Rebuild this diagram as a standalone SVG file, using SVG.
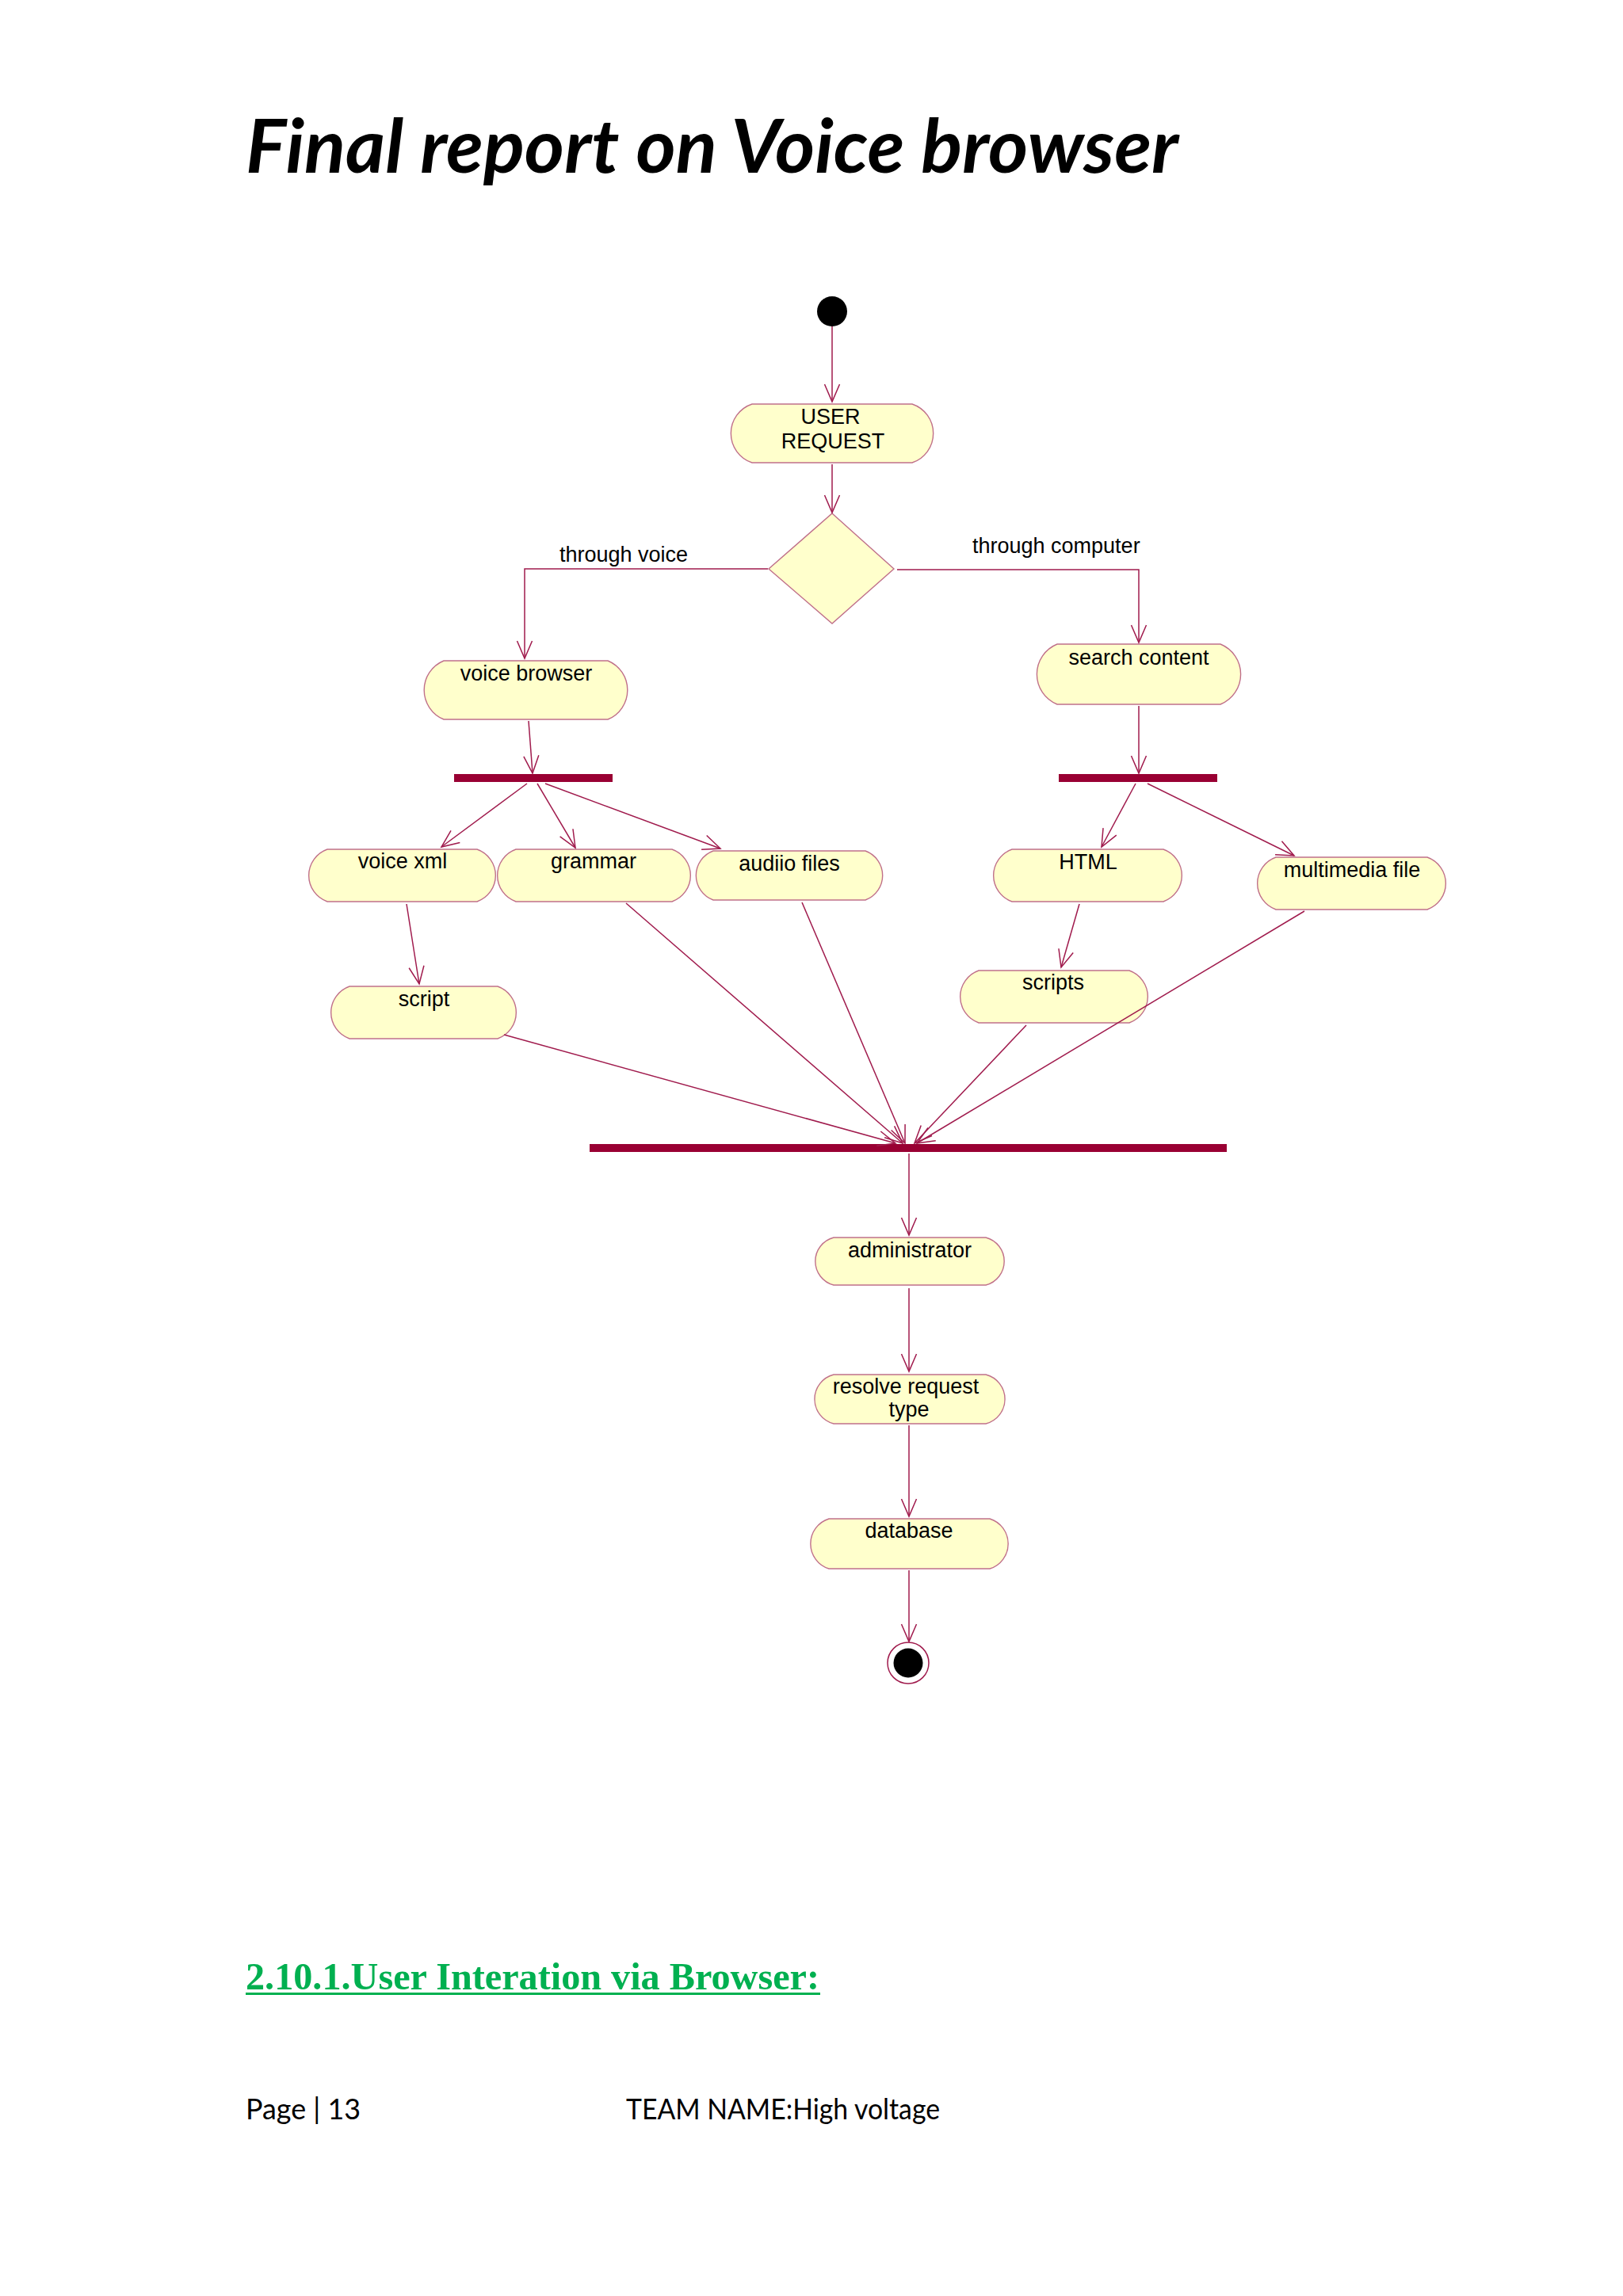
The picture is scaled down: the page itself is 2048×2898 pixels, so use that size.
<svg xmlns="http://www.w3.org/2000/svg" width="2048" height="2898" viewBox="0 0 2048 2898">
<defs>
<style>
.node path{fill:#FFFFCC;stroke:#C0708A;stroke-width:1.4}
.lbl{font-family:"Liberation Sans",Arial,sans-serif;font-size:27px;fill:#000;text-anchor:middle}
.elbl{font-family:"Liberation Sans",Arial,sans-serif;font-size:27px;fill:#000}
.conn path{fill:none;stroke:#A01B4D;stroke-width:1.5}
.arr{marker-end:url(#ah)}
.bar{fill:#990033}
</style>
<marker id="ah" markerUnits="userSpaceOnUse" orient="auto" markerWidth="30" markerHeight="30" refX="0" refY="0" viewBox="-25 -15 30 30" overflow="visible">
<path d="M-22,-9.5 L0,0 L-22,9.5" fill="none" stroke="#A01B4D" stroke-width="1.5"/>
</marker>
</defs>
<rect width="2048" height="2898" fill="#FFFFFF"/>

<text x="310" y="218" font-family="Lato,'Open Sans',sans-serif" font-weight="bold" font-style="italic" font-size="94" textLength="1177" lengthAdjust="spacingAndGlyphs" fill="#000">Final report on Voice browser</text>

<g id="start"><circle cx="1050" cy="393" r="19" fill="#000"/></g>

<g id="user_request" class="node">
<path d="M949,510 H1151 A39 39 0 0 1 1151,584 H949 A39 39 0 0 1 949,510 Z"/>
<text class="lbl" x="1048" y="535">USER</text>
<text class="lbl" x="1051" y="566">REQUEST</text>
</g>

<g id="decision"><polygon points="1050,648 1128,718 1050,787 970,718" fill="#FFFFCC" stroke="#C0708A" stroke-width="1.4"/></g>

<g id="voice_browser" class="node">
<path d="M560,834 H767 A40 40 0 0 1 767,908 H560 A40 40 0 0 1 560,834 Z"/>
<text class="lbl" x="664" y="859">voice browser</text>
</g>

<g id="search_content" class="node">
<path d="M1334,813 H1540 A41 41 0 0 1 1540,889 H1334 A41 41 0 0 1 1334,813 Z"/>
<text class="lbl" x="1437" y="839">search content</text>
</g>

<g id="fork_voice"><rect class="bar" x="573" y="977" width="200" height="10"/></g>
<g id="fork_computer"><rect class="bar" x="1336" y="977" width="200" height="10"/></g>

<g id="voice_xml" class="node">
<path d="M413,1072 H602 A35 35 0 0 1 602,1138 H413 A35 35 0 0 1 413,1072 Z"/>
<text class="lbl" x="508" y="1096">voice xml</text>
</g>

<g id="grammar" class="node">
<path d="M651,1072 H848 A35 35 0 0 1 848,1138 H651 A35 35 0 0 1 651,1072 Z"/>
<text class="lbl" x="749" y="1096">grammar</text>
</g>

<g id="audio_files" class="node">
<path d="M900,1074 H1092 A33 33 0 0 1 1092,1136 H900 A33 33 0 0 1 900,1074 Z"/>
<text class="lbl" x="996" y="1099">audiio files</text>
</g>

<g id="html" class="node">
<path d="M1277,1072 H1468 A35 35 0 0 1 1468,1138 H1277 A35 35 0 0 1 1277,1072 Z"/>
<text class="lbl" x="1373" y="1097">HTML</text>
</g>

<g id="multimedia_file" class="node">
<path d="M1610,1082 H1801 A35 35 0 0 1 1801,1148 H1610 A35 35 0 0 1 1610,1082 Z"/>
<text class="lbl" x="1706" y="1107">multimedia file</text>
</g>

<g id="script" class="node">
<path d="M441,1245 H628 A35 35 0 0 1 628,1311 H441 A35 35 0 0 1 441,1245 Z"/>
<text class="lbl" x="535" y="1270">script</text>
</g>

<g id="scripts" class="node">
<path d="M1235,1225 H1425 A35 35 0 0 1 1425,1291 H1235 A35 35 0 0 1 1235,1225 Z"/>
<text class="lbl" x="1329" y="1249">scripts</text>
</g>

<g id="join"><rect class="bar" x="744" y="1444" width="804" height="10"/></g>

<g id="administrator" class="node">
<path d="M1052,1562 H1244 A31 31 0 0 1 1244,1622 H1052 A31 31 0 0 1 1052,1562 Z"/>
<text class="lbl" x="1148" y="1587">administrator</text>
</g>

<g id="resolve_request_type" class="node">
<path d="M1052,1735 H1244 A32 32 0 0 1 1244,1797 H1052 A32 32 0 0 1 1052,1735 Z"/>
<text class="lbl" x="1143" y="1759">resolve request</text>
<text class="lbl" x="1147" y="1788">type</text>
</g>

<g id="database" class="node">
<path d="M1046,1917 H1249 A33 33 0 0 1 1249,1980 H1046 A33 33 0 0 1 1046,1917 Z"/>
<text class="lbl" x="1147" y="1941">database</text>
</g>

<g id="end">
<circle cx="1146" cy="2099" r="26" fill="#FFFFFF" stroke="#A01B4D" stroke-width="1.5"/>
<circle cx="1146" cy="2099" r="18.5" fill="#000"/>
</g>

<g id="connectors" class="conn">
<path class="arr" d="M1050,412 V507"/>
<path class="arr" d="M1050,586 V647"/>
<path class="arr" d="M1132,719 H1437 V811"/>
<path class="arr" d="M969,718 H662 V831"/>
<path class="arr" d="M667,910 L672,976"/>
<path class="arr" d="M665,989 L557,1069"/>
<path class="arr" d="M678,989 L726,1070"/>
<path class="arr" d="M688,989 L909,1071"/>
<path class="arr" d="M1437,891 V976"/>
<path class="arr" d="M1433,989 L1390,1069"/>
<path class="arr" d="M1448,989 L1633,1080"/>
<path class="arr" d="M513,1141 L529,1242"/>
<path class="arr" d="M1362,1141 L1339,1221"/>
<path class="arr" d="M636,1306 L1130,1443"/>
<path class="arr" d="M790,1140 L1139,1443"/>
<path class="arr" d="M1012,1139 L1142,1443"/>
<path class="arr" d="M1295,1294 L1154,1443"/>
<path class="arr" d="M1646,1150 L1157,1443"/>
<path class="arr" d="M1147,1456 V1559"/>
<path class="arr" d="M1147,1626 V1731"/>
<path class="arr" d="M1147,1799 V1914"/>
<path class="arr" d="M1147,1982 V2072"/>
<text class="elbl" x="1227" y="698">through computer</text>
<text class="elbl" x="706" y="709">through voice</text>
</g>

<text x="310" y="2511" font-family="'Liberation Serif','Times New Roman',serif" font-weight="bold" font-size="48" fill="#00B050" textLength="724" lengthAdjust="spacingAndGlyphs">2.10.1.User Interation via Browser:</text>
<rect x="310" y="2515" width="725" height="3" fill="#00B050"/>

<text x="310" y="2675" font-family="Lato,'Open Sans',sans-serif" font-size="37" fill="#000" textLength="145" lengthAdjust="spacingAndGlyphs">Page | 13</text>
<text x="790" y="2675" font-family="Lato,'Open Sans',sans-serif" font-size="37" fill="#000" textLength="396" lengthAdjust="spacingAndGlyphs">TEAM NAME:High voltage</text>
</svg>
